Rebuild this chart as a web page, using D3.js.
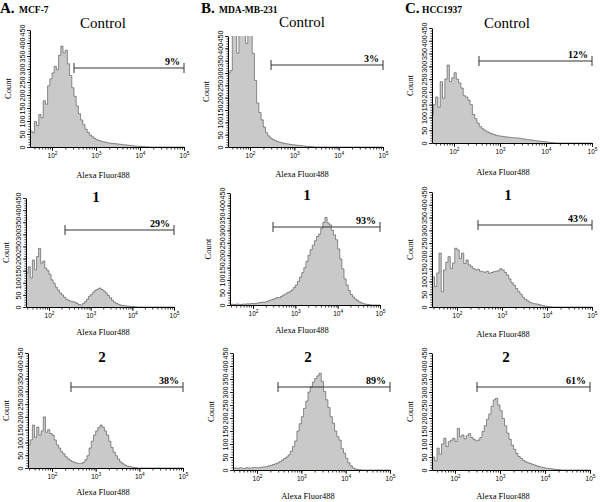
<!DOCTYPE html>
<html><head><meta charset="utf-8">
<script src="https://cdn.jsdelivr.net/npm/d3@7"></script>
<style>body{margin:0;background:#fff}svg{display:block}</style>
</head><body>
<svg id="c" width="600" height="502"></svg>
<script>
// ---- data: histogram counts in log10 bins starting at BIN_START, width BIN_STEP ----
const BIN_START = 1.40, BIN_STEP = 0.05;
const mcfControl = [50,48,62,55,98,82,125,112,178,165,235,262,285,310,298,352,388,362,372,320,275,228,195,158,128,104,86,68,56,46,39,33,28,25,22,20,18,16,15,14,13,12,11,10,9,8,7,6,5,4,3,3,2,2,1,1];
const mcf1 = [160,140,166,120,194,153,208,242,181,190,160,150,135,112,98,82,70,58,50,40,32,28,24,22,20,15,10,8,14,22,32,45,52,62,70,74,78,72,66,58,48,38,28,20,15,11,8,6,5,4,3,2,2,1];
const mcf2 = [88,90,110,168,120,160,129,145,200,140,150,135,129,110,90,78,64,55,44,36,30,25,22,19,18,18,22,32,48,78,105,129,145,158,168,160,145,129,105,80,62,48,35,24,17,12,8,6,4,2,1];
const mdaControl = [290,300,300,310,520,600,380,600,560,600,420,600,520,380,270,178,140,110,81,58,45,36,30,26,22,19,17,15,13,12,10,9,8,7,6,5,4,3,2,2,1];
const mda1 = [3,2,3,2,4,3,2,4,3,5,4,6,5,7,8,10,12,11,14,17,20,22,26,30,29,34,40,44,50,53,60,70,80,95,112,130,150,175,200,222,240,258,275,285,308,332,352,330,322,300,282,262,225,185,145,105,80,58,42,32,24,18,12,8,5,3,2,1];
const mda2 = [5,6,8,5,9,7,6,9,8,7,10,9,8,10,11,12,13,16,18,21,24,27,32,38,44,50,58,72,90,112,150,178,205,237,265,300,320,338,352,362,372,340,302,270,240,205,180,150,128,115,82,65,45,28,16,8,4,2,1];
const hccControl = [100,105,110,150,180,140,240,175,250,305,240,255,275,250,235,215,185,180,168,150,112,95,78,64,56,50,44,40,36,33,30,28,27,25,24,23,22,21,20,20,19,17,16,14,13,12,10,9,8,7,6,5,4,3,2,1];
const hcc1 = [120,118,80,133,211,60,145,175,197,150,172,230,223,190,211,170,184,165,158,150,145,148,140,138,136,140,132,135,138,140,142,150,145,135,125,110,95,85,72,60,50,38,30,24,18,15,13,12,10,7,5,3,2,1];
const hcc2 = [40,45,50,35,84,60,100,122,90,109,115,122,110,160,128,135,120,132,140,125,118,112,115,125,148,170,195,215,245,270,276,250,228,198,170,142,118,96,80,64,52,44,37,32,28,25,22,19,16,13,11,9,7,6,5,4,3,2,1];

const panelLetters = ["A.", "B.", "C."];
const cellLines = ["MCF-7", "MDA-MB-231", "HCC1937"];
const treatments = ["Control", "1", "2"];
const percents = [["9%", "29%", "38%"], ["3%", "93%", "89%"], ["12%", "43%", "61%"]];
const gateStarts = [[316, 242, 272], [298, 297, 298], [349, 293, 308]];
const xMajorTicks = [1e2, 1e3, 1e4, 1e5];
const xTickExponents = ["2", "3", "4", "5"];
const yMajorTicks = [0, 50, 100, 150, 200, 250, 300, 350, 400, 450];
const yAxisLabel = "Count";
const xAxisLabel = "Alexa Fluor488";

const series = [[mcfControl, mcf1, mcf2], [mdaControl, mda1, mda2], [hccControl, hcc1, hcc2]];

// ---- layout (pixels) ----
const geom = [
 [{left:30,x100:52,x5:184,y0:147,yTop:30,gateY:68,tx:103,ty:28,lx:103,ly:178},
  {left:26,x100:49,x5:174,y0:307,yTop:198,gateY:230,tx:96,ty:202,lx:103,ly:335},
  {left:28,x100:52,x5:183,y0:468,yTop:353,gateY:387,tx:102,ty:362,lx:103,ly:495}],
 [{left:228,x100:250,x5:383,y0:147,yTop:36,gateY:65,tx:302,ty:27,lx:302,ly:177},
  {left:230,x100:253,x5:380,y0:305,yTop:193,gateY:227,tx:307,ty:200,lx:302,ly:333},
  {left:233,x100:257,x5:390,y0:470,yTop:353,gateY:387,tx:308,ty:362,lx:308,ly:499}],
 [{left:432,x100:454,x5:592,y0:143,yTop:28,gateY:61,tx:507,ty:28,lx:503,ly:175},
  {left:432,x100:457,x5:592,y0:307,yTop:192,gateY:225,tx:508,ty:200,lx:503,ly:337},
  {left:432,x100:455,x5:590,y0:470,yTop:353,gateY:387,tx:506,ty:362,lx:503,ly:499}]
];
const headerX = [[0, 19], [201, 219], [405, 422]];

const serif = "'Liberation Serif','Times New Roman',serif";
const sans = "'Liberation Sans',Arial,sans-serif";
const svg = d3.select("#c");

// headers
panelLetters.forEach((L, c) => {
  svg.append("text").attr("x", headerX[c][0]).attr("y", 13).attr("font-family", serif)
    .attr("font-weight", "bold").attr("font-size", 15).text(L);
  svg.append("text").attr("x", headerX[c][1]).attr("y", 13).attr("font-family", serif)
    .attr("font-weight", "bold").attr("font-size", 9.5).text(cellLines[c]);
});

series.forEach((col, c) => col.forEach((vals, r) => {
  const G = geom[c][r];
  const g = svg.append("g");
  const x0 = d3.scaleLog().domain([1e2, 1e5]).range([G.x100, G.x5]);
  const xmin = x0.invert(G.left);
  const x = d3.scaleLog().domain([xmin, 1e5]).range([G.left, G.x5]);
  const y = d3.scaleLinear().domain([0, 450]).range([G.y0, G.yTop]);

  const id = "clip" + c + r;
  g.append("clipPath").attr("id", id).append("rect")
    .attr("x", G.left).attr("y", G.yTop).attr("width", G.x5 - G.left).attr("height", G.y0 - G.yTop);

  const pts = vals.map((v, i) => ({x: Math.pow(10, BIN_START + i * BIN_STEP), v}));
  pts.push({x: Math.pow(10, BIN_START + vals.length * BIN_STEP), v: 0});
  pts.push({x: 1e5, v: 0});

  const area = d3.area().curve(d3.curveStepAfter).x(d => x(d.x)).y0(y(0)).y1(d => y(d.v));
  const line = d3.line().curve(d3.curveStepAfter).x(d => x(d.x)).y(d => y(d.v));
  const hg = g.append("g").attr("clip-path", `url(#${id})`);
  hg.append("path").datum(pts).attr("d", area).attr("fill", "#c9c9c9");
  hg.append("path").datum(pts).attr("d", line).attr("fill", "none").attr("stroke", "#4a4a4a").attr("stroke-width", 0.6);

  // x axis minor
  const xMinor = x.ticks().filter(t => t >= xmin);
  g.append("g").attr("transform", `translate(0,${G.y0})`)
    .call(d3.axisBottom(x).tickValues(xMinor).tickSize(2.5).tickSizeOuter(0).tickFormat(""))
    .call(s => s.select(".domain").attr("stroke", "#000").attr("stroke-width", 1))
    .call(s => s.selectAll(".tick line").attr("stroke-width", 0.8));
  // x axis major
  const xa = g.append("g").attr("transform", `translate(0,${G.y0})`)
    .call(d3.axisBottom(x).tickValues(xMajorTicks).tickSize(4).tickSizeOuter(0).tickFormat(""));
  xa.select(".domain").remove();
  xa.selectAll(".tick line").attr("stroke-width", 0.8);
  xa.selectAll(".tick").append("text")
    .attr("y", 11).attr("text-anchor", "middle").attr("fill", "#000")
    .attr("font-family", sans).attr("font-size", 6.5)
    .each(function(d, i) {
      const t = d3.select(this);
      t.append("tspan").text("10");
      t.append("tspan").attr("dy", -3).attr("font-size", 4.8).text(xTickExponents[i]);
    });

  // y axis minor
  g.append("g").attr("transform", `translate(${G.left},0)`)
    .call(d3.axisLeft(y).tickValues(d3.range(0, 451, 10)).tickSize(1.6).tickSizeOuter(0).tickFormat(""))
    .call(s => s.select(".domain").attr("stroke-width", 1))
    .call(s => s.selectAll(".tick line").attr("stroke-width", 0.7));
  const ya = g.append("g").attr("transform", `translate(${G.left},0)`)
    .call(d3.axisLeft(y).tickValues(yMajorTicks).tickSize(3).tickSizeOuter(0));
  ya.select(".domain").remove();
  ya.selectAll(".tick line").attr("stroke-width", 0.8);
  ya.selectAll(".tick text")
    .attr("transform", "rotate(-90)").attr("x", 0).attr("y", -5.5).attr("dy", null)
    .attr("text-anchor", "middle").attr("font-family", sans).attr("font-size", 7.2).attr("fill", "#000");

  // gate
  const gx1 = x(gateStarts[c][r]), gx2 = x(1e5);
  g.append("line").attr("x1", gx1).attr("x2", gx2).attr("y1", G.gateY).attr("y2", G.gateY)
    .attr("stroke", "#333").attr("stroke-width", 1);
  [gx1, gx2].forEach(px => g.append("line").attr("x1", px).attr("x2", px)
    .attr("y1", G.gateY - 5).attr("y2", G.gateY + 5).attr("stroke", "#333").attr("stroke-width", 1));
  g.append("text").attr("x", gx2 - 4).attr("y", G.gateY - 3).attr("text-anchor", "end")
    .attr("font-family", serif).attr("font-weight", "bold").attr("font-size", 10).text(percents[c][r]);

  // titles
  const isCtrl = r === 0;
  g.append("text").attr("x", G.tx).attr("y", G.ty).attr("text-anchor", "middle")
    .attr("font-family", serif).attr("font-weight", isCtrl ? "normal" : "bold")
    .attr("font-size", 15).text(treatments[r]);
  g.append("text").attr("x", G.lx).attr("y", G.ly).attr("text-anchor", "middle")
    .attr("font-family", serif).attr("font-size", 8.5).text(xAxisLabel);
  const cy = (G.y0 + G.yTop) / 2;
  const cx = Math.max(G.left - 19, 8.5);
  g.append("text").attr("transform", `translate(${cx},${cy}) rotate(-90)`)
    .attr("text-anchor", "middle").attr("font-family", serif).attr("font-size", 8.5).text(yAxisLabel);
}));
</script>
</body></html>
